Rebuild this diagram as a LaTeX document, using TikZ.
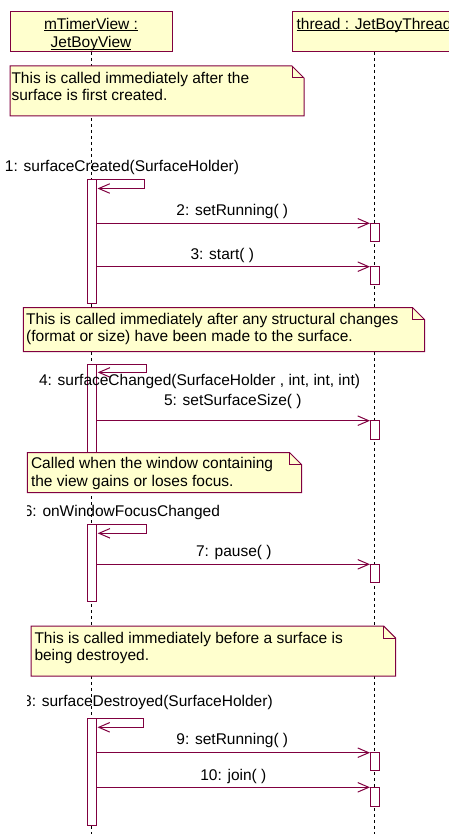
\documentclass[tikz,border=0pt]{standalone}
\usepackage{fontspec}
\setmainfont{Liberation Sans}
\usetikzlibrary{arrows.meta}
\definecolor{rosered}{RGB}{128,0,64}
\definecolor{roseyellow}{RGB}{255,255,206}
\begin{document}
\begin{tikzpicture}[x=1pt,y=-1pt,
  every node/.style={font=\fontsize{15.5}{17.4}\selectfont, inner sep=0pt, outer sep=0pt},
  objbox/.style={draw=rosered, fill=roseyellow, line width=1pt, rectangle},
  lifeline/.style={draw=black, line width=0.9pt, dash pattern=on 3pt off 3pt},
  actbar/.style={draw=rosered, fill=white, line width=1pt, rectangle, minimum width=9pt},
  msg/.style={draw=rosered, line width=1pt, -{Straight Barb[length=11pt,width=9.5pt]}},
  notebox/.style={draw=rosered, fill=roseyellow, line width=1pt, line join=miter},
  notefold/.style={draw=rosered, line width=1pt},
  notetext/.style={anchor=north west, align=left},
  lbl/.style={anchor=base, text=black},
]
\useasboundingbox (0,0) rectangle (448,834);

% objects
\node[objbox, minimum width=162pt, minimum height=40pt] (view) at (91,32) {};
\node[objbox, minimum width=164pt, minimum height=40pt] (thread) at (374,32) {};
\node[anchor=base] (viewname1) at (91,29.3) {\underline{\smash{mTimerView :}}};
\node[anchor=base] (viewname2) at (91,47.7) {\underline{\smash{JetBoyView}}};
\node[anchor=base] (threadname) at (374,29.3) {\underline{\smash{thread : JetBoyThread}}};

% lifelines
\coordinate (viewend) at (91.5,834);
\coordinate (threadend) at (374.5,834);
\draw[lifeline] (view.south -| viewend) -- (viewend);
\draw[lifeline] (thread.south -| threadend) -- (threadend);

% activation bars (view)
\node[actbar, minimum height=123pt, anchor=north] (a1) at (91.5,180) {};
\node[actbar, minimum height=94pt, anchor=north] (a2) at (91.5,364) {};
\node[actbar, minimum height=77pt, anchor=north] (a3) at (91.5,524.7) {};
\node[actbar, minimum height=106.7pt, anchor=north] (a4) at (91.5,718.3) {};
% activation bars (thread)
\node[actbar, minimum height=17.7pt, anchor=north] (t2) at (374.5,223.3) {};
\node[actbar, minimum height=17.3pt, anchor=north] (t3) at (374.5,266.7) {};
\node[actbar, minimum height=18.3pt, anchor=north] (t5) at (374.5,420.7) {};
\node[actbar, minimum height=18pt, anchor=north] (t7) at (374.5,564.3) {};
\node[actbar, minimum height=17.6pt, anchor=north] (t9) at (374.5,752.7) {};
\node[actbar, minimum height=19pt, anchor=north] (t10) at (374.5,787.3) {};

% self messages
\draw[msg] (a1.north east) -- ++(48,0) -- ++(0,8.5) -- ++(-46.5,0);
\draw[msg] (a2.north east) -- ++(50.7,0) -- ++(0,8.4) -- ++(-49,0);
\draw[msg] (a3.north east) -- ++(50.7,0) -- ++(0,8.6) -- ++(-49,0);
\draw[msg] (a4.north east) -- ++(47.3,0) -- ++(0,9) -- ++(-45.8,0);

% messages to thread
\draw[msg] (a1.east |- t2.north) -- (t2.north west);
\draw[msg] (a1.east |- t3.north) -- (t3.north west);
\draw[msg] (a2.east |- t5.north) -- (t5.north west);
\draw[msg] (a3.east |- t7.north) -- (t7.north west);
\draw[msg] (a4.east |- t9.north) -- (t9.north west);
\draw[msg] (a4.east |- t10.north) -- (t10.north west);

% labels
\node[lbl, anchor=base west] (l1) at (5,172) {1: surfaceCreated(SurfaceHolder)};
\node[lbl] (l2) at (232.3,215) {2: setRunning( )};
\node[lbl] (l3) at (222.3,259.3) {3: start( )};
\node[lbl, anchor=base west] (l4) at (39,385) {4: surfaceChanged(SurfaceHolder , int, int, int)};
\node[lbl] (l5) at (232.8,405.7) {5: setSurfaceSize( )};
\begin{scope}
  \clip (27,495) rectangle (300,525);
  \node[lbl, anchor=base east] (l6) at (220,516) {6: onWindowFocusChanged};
\end{scope}
\node[lbl] (l7) at (233.8,556) {7: pause( )};
\begin{scope}
  \clip (27,685) rectangle (300,715);
  \node[lbl, anchor=base east] (l8) at (272.7,706.7) {8: surfaceDestroyed(SurfaceHolder)};
\end{scope}
\node[lbl] (l9) at (232.3,744) {9: setRunning( )};
\node[lbl] (l10) at (233.3,780) {10: join( )};

% notes
\draw[notebox] (10,66) -- (292,66) -- (304,78) -- (304,116) -- (10,116) -- cycle;
\draw[notefold] (292,66) -- (292,78) -- (304,78);
\node[notetext] (n1) at (11.5,72) {This is called immediately after the\\surface is first created.};

\draw[notebox] (23.3,307.5) -- (412.5,307.5) -- (424.5,319.5) -- (424.5,351.7) -- (23.3,351.7) -- cycle;
\draw[notefold] (412.5,307.5) -- (412.5,319.5) -- (424.5,319.5);
\node[notetext] (n2) at (26.2,313.3) {This is called immediately after any structural changes\\(format or size) have been made to the surface.};

\draw[notebox] (27.3,452.7) -- (289.7,452.7) -- (301.7,464.7) -- (301.7,492.7) -- (27.3,492.7) -- cycle;
\draw[notefold] (289.7,452.7) -- (289.7,464.7) -- (301.7,464.7);
\node[notetext] (n3) at (31,457.7) {Called when the window containing\\the view gains or loses focus.};

\draw[notebox] (31,626) -- (383.7,626) -- (395.7,638) -- (395.7,676) -- (31,676) -- cycle;
\draw[notefold] (383.7,626) -- (383.7,638) -- (395.7,638);
\node[notetext] (n4) at (34.5,632) {This is called immediately before a surface is\\being destroyed.};
\end{tikzpicture}
\end{document}
